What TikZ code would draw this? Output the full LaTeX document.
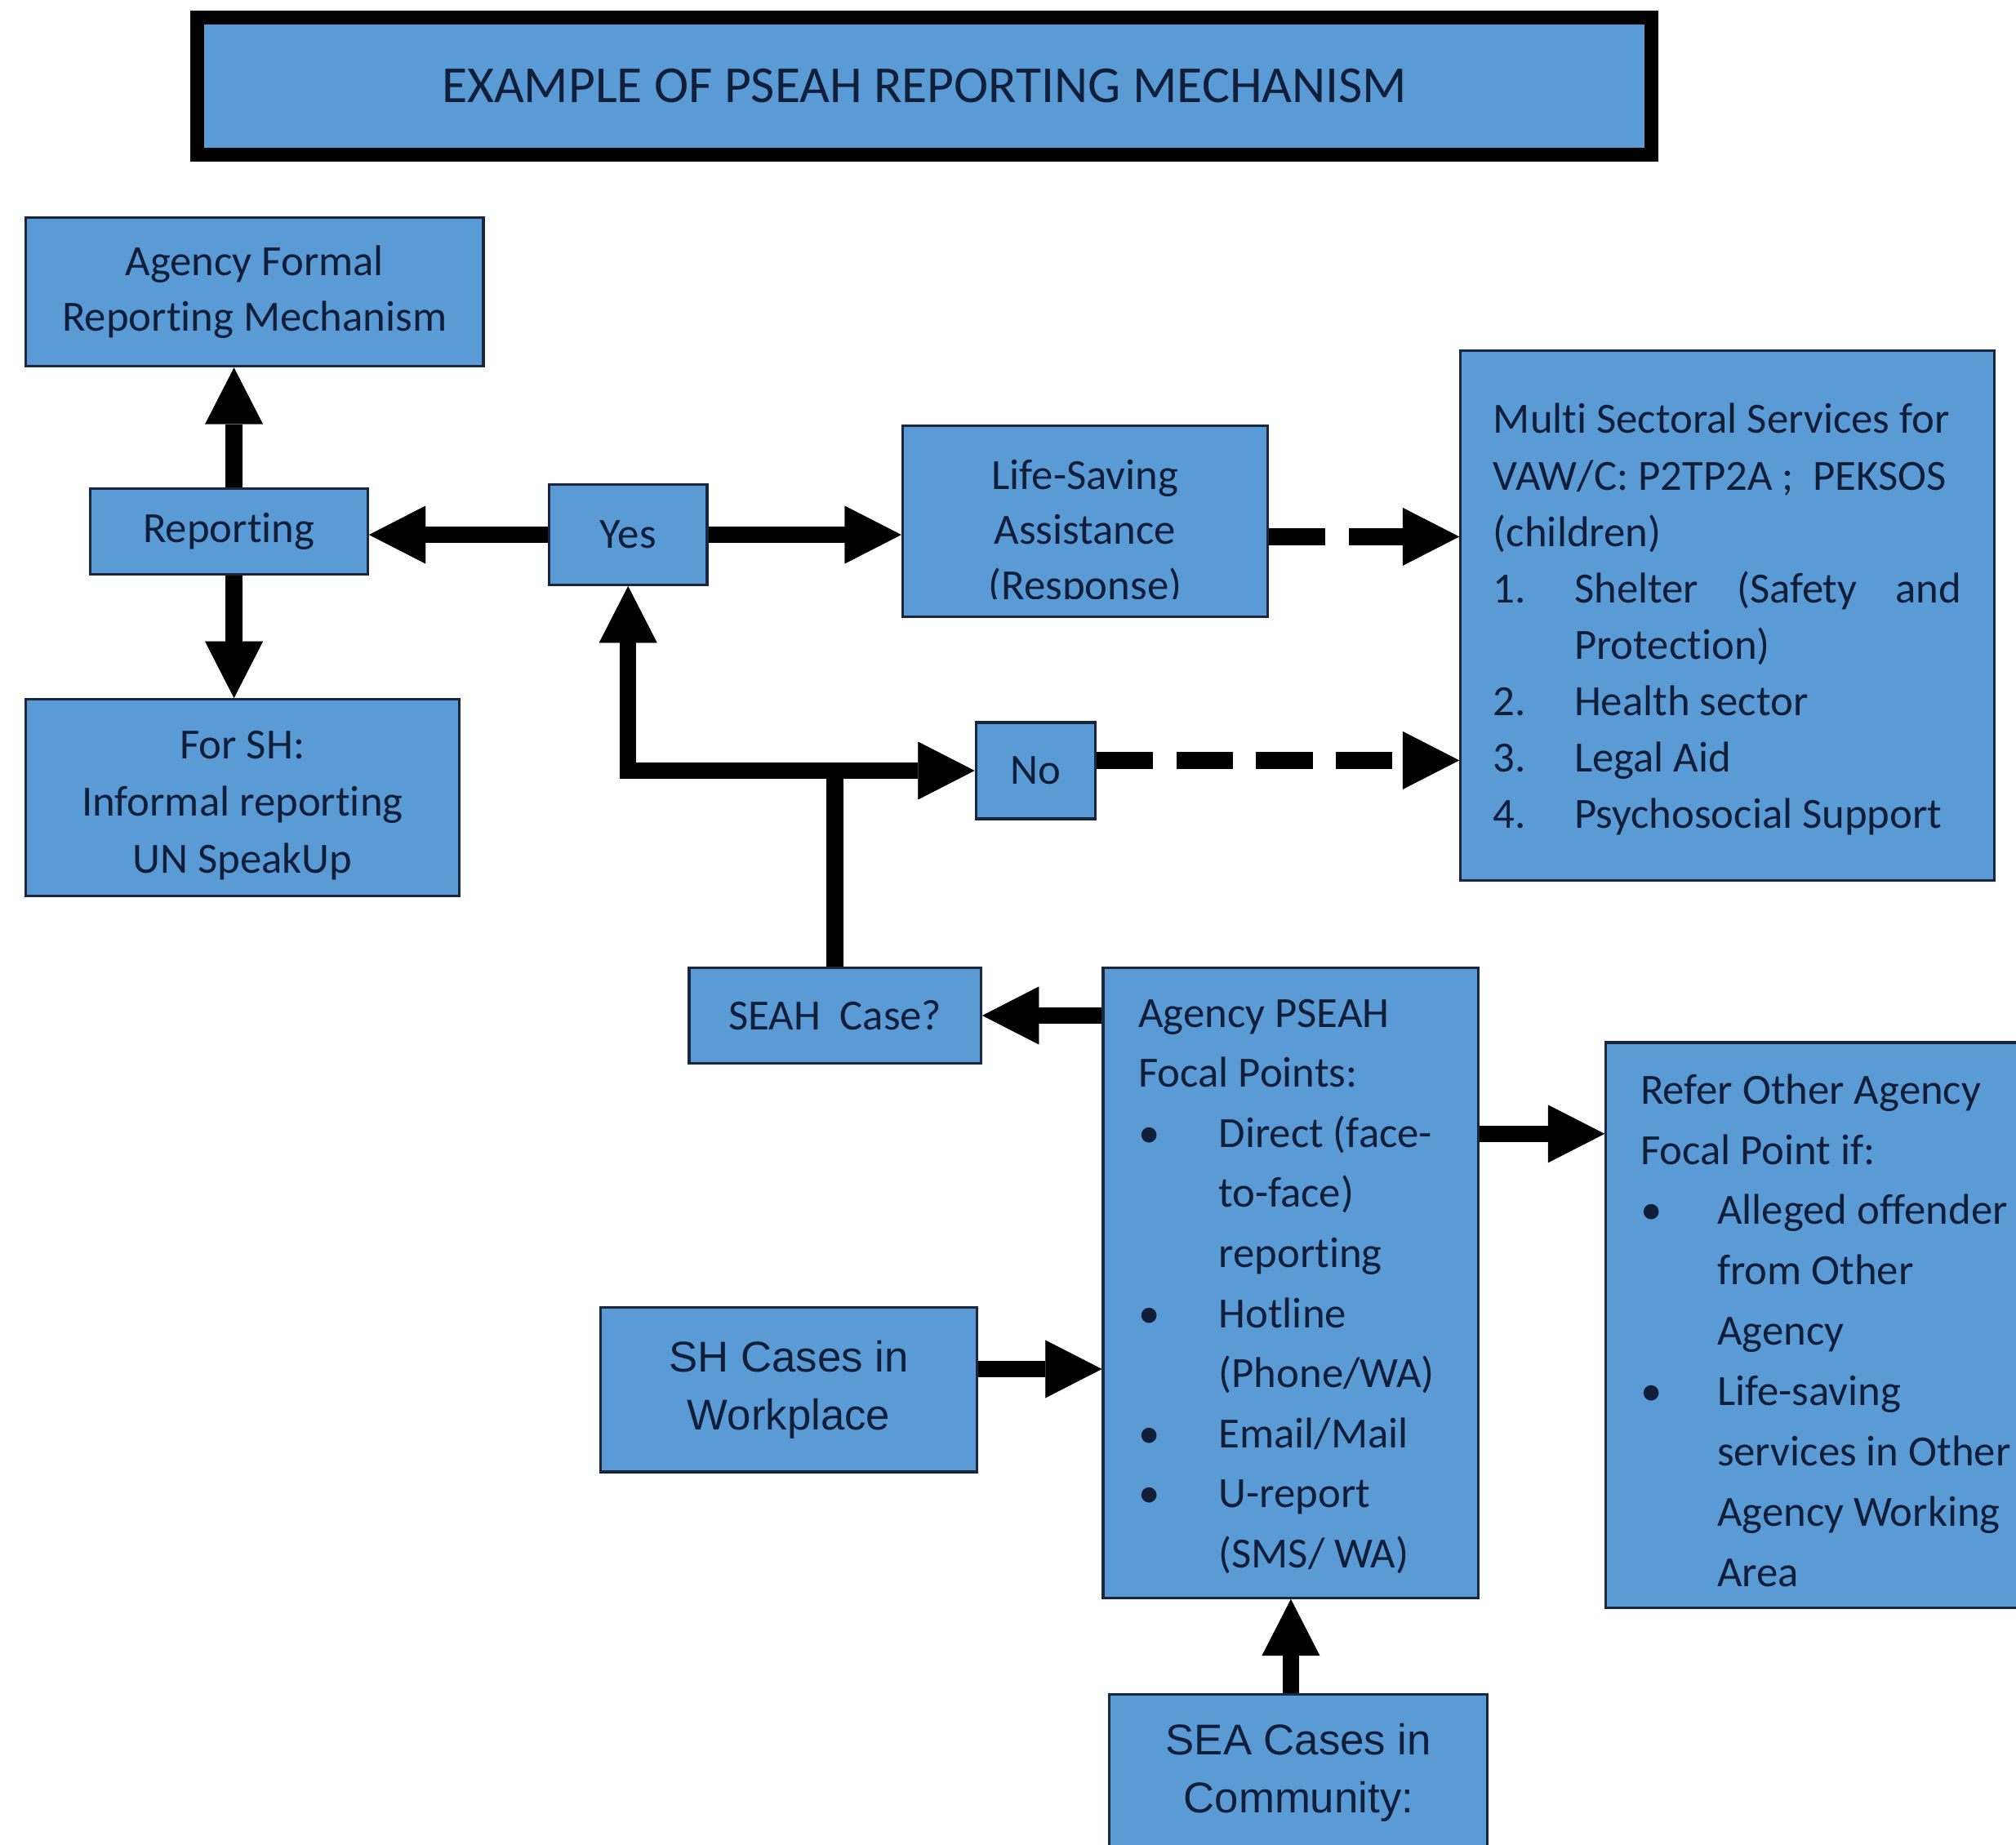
\documentclass[tikz,border=0pt]{standalone}
\usepackage{fontspec}
\setmainfont{Carlito}[Ligatures={TeX,NoCommon}]
\newfontfamily\arialfont{Liberation Sans}
\usetikzlibrary{arrows.meta,calc}
\definecolor{boxblue}{RGB}{91,155,213}
\definecolor{boxline}{RGB}{25,38,62}
\definecolor{txtnavy}{RGB}{16,30,58}
\newcommand\pbul[1]{\makebox[#1][l]{\textbullet}}
\newcommand\pnum[2]{\makebox[#1][l]{#2}}
\tikzset{
  box/.style={draw=boxline, line width=1pt, fill=boxblue, inner sep=0pt, text=txtnavy,
    font={\fontsize{16.75}{21.5}\selectfont\parindent=0pt}},
  sz/.style 2 args={minimum width=#1*0.5pt, minimum height=#2*0.5pt},
  arialbox/.style={box, font={\arialfont\fontsize{16.75}{22.5}\selectfont}, align=center},
  titlebox/.style={draw=black, line width=5.5pt, fill=boxblue, inner sep=0pt, text=txtnavy,
    font={\fontsize{20.2}{24}\selectfont}},
  arr/.style={draw=black, line width=6.5pt, -{Triangle[width=22.5pt,length=22pt,line width=0.1pt]}},
  darr/.style={arr, dash pattern=on 22pt off 9pt},
}
\begin{document}
\frenchspacing
\begin{tikzpicture}[x=0.5pt,y=-0.5pt]
\useasboundingbox (0,0) rectangle (1568,1435);
\fill[white] (0,0) rectangle (1568,1435);

% title
\node[titlebox, sz={1131}{107}] (title) at (719,67) {EXAMPLE OF PSEAH REPORTING MECHANISM};

% left column
\node[box, align=center, sz={356}{116}] (formal) at (198,227) {Agency Formal\\Reporting Mechanism};
\node[box, sz={216}{67}] (rep) at (178,413.5) {\strut Reporting};
\node[box, align=center, font={\fontsize{16.75}{22.3}\selectfont}, sz={337}{153}] (forsh) at (188.5,620.5)
  {\rule{0pt}{16.8pt}For SH:\\Informal reporting\\UN SpeakUp};

% decision boxes
\node[box, sz={123}{78}] (yes) at (488.5,416) {Yes};
\node[box, sz={93}{75}] (no) at (805.5,599.5) {No};
\node[box, sz={227}{74}] (seah) at (649.5,790) {SEAH\ \ Case?};

% life-saving (text overflows and is clipped)
\node[box, sz={284}{149}] (life) at (844,405.5) {};
\begin{scope}
  \clip (life.north west) rectangle ($(life.south east)+(0,-15)$);
  \node[anchor=north, inner sep=0pt, text=txtnavy, align=center,
        font={\fontsize{16.75}{21.5}\selectfont}] (lifetext) at (844,350)
        {\strut Life-Saving\\Assistance\\(Response)};
\end{scope}

% multi sectoral services
\node[box, align=flush left, text width=182pt, font={\fontsize{16.75}{21.95}\selectfont\parindent=0pt},
      sz={415}{412}] (multi) at (1343.5,479)
{\rule{0pt}{18.4pt}\mbox{Multi Sectoral Services for}\\
\mbox{VAW/C: P2TP2A ;\ \ PEKSOS}\\
\mbox{(children)}\\
\makebox[182pt][l]{\pnum{31.5pt}{1.}Shelter\hfill(Safety\hfill and}\\
\mbox{\hspace*{31.5pt}Protection)}\\
\mbox{\pnum{31.5pt}{2.}Health sector}\\
\mbox{\pnum{31.5pt}{3.}Legal Aid}\\
\mbox{\pnum{31.5pt}{4.}Psychosocial Support}\strut};

% agency PSEAH focal points
\node[box, align=flush left, text width=118.5pt, font={\fontsize{16.75}{23.35}\selectfont\parindent=0pt},
      sz={292}{490}] (agency) at (1004,998)
{\rule{0pt}{18.3pt}\mbox{Agency PSEAH}\\
\mbox{Focal Points:}\\
\mbox{\pbul{31.2pt}Direct (face-}\\
\mbox{\hspace*{31.2pt}to-face)}\\
\mbox{\hspace*{31.2pt}reporting}\\
\mbox{\pbul{31.2pt}Hotline}\\
\mbox{\hspace*{31.2pt}(Phone/WA)}\\
\mbox{\pbul{31.2pt}Email/Mail}\\
\mbox{\pbul{31.2pt}U-report}\\
\mbox{\hspace*{31.2pt}(SMS/ WA)}\strut};

% refer other agency
\node[box, align=flush left, text width=150pt, font={\fontsize{16.75}{23.45}\selectfont\parindent=0pt},
      sz={354}{440}] (refer) at (1426,1031)
{\rule{0pt}{22.4pt}\mbox{Refer Other Agency}\\
\mbox{Focal Point if:}\\
\mbox{\pbul{29.8pt}Alleged offender}\\
\mbox{\hspace*{29.8pt}from Other}\\
\mbox{\hspace*{29.8pt}Agency}\\
\mbox{\pbul{29.8pt}Life-saving}\\
\mbox{\hspace*{29.8pt}services in Other}\\
\mbox{\hspace*{29.8pt}Agency Working}\\
\mbox{\hspace*{29.8pt}Area}\strut};

% cases
\node[arialbox, sz={293}{128}] (sh) at (613.5,1081) {SH Cases in\\Workplace};
\node[arialbox, sz={294}{122}] (sea) at (1010,1379) {SEA Cases in\\Community:};

% connectors
\coordinate (rx) at (182,0);
\draw[arr] (rep.north -| rx) -- (formal.south -| rx);
\draw[arr] (rep.south -| rx) -- (forsh.north -| rx);
\draw[arr] (yes.west) -- (yes.west -| rep.east);
\draw[arr] (yes.east) -- (yes.east -| life.west);

\coordinate (d1) at ($(life.east)+(0,12)$);
\draw[darr] (d1) -- (d1 -| multi.west);
\coordinate (d2) at ($(no.east)+(0,-8)$);
\draw[darr] (d2) -- (d2 -| multi.west);

\coordinate (junc) at (seah.north |- no.west);
\draw[arr] (junc) -| (yes.south);
\draw[arr] (seah.north) |- (no.west);

\draw[arr] (agency.west |- seah.east) -- (seah.east);
\coordinate (s1) at ($(sh.east)+(0,-16)$);
\draw[arr] (s1) -- (s1 -| agency.west);
\coordinate (a1) at ($(agency.north east)+(0,130)$);
\draw[arr] (a1) -- (a1 -| refer.west);
\draw[arr] (agency.south |- sea.north) -- (agency.south);
\end{tikzpicture}
\end{document}
